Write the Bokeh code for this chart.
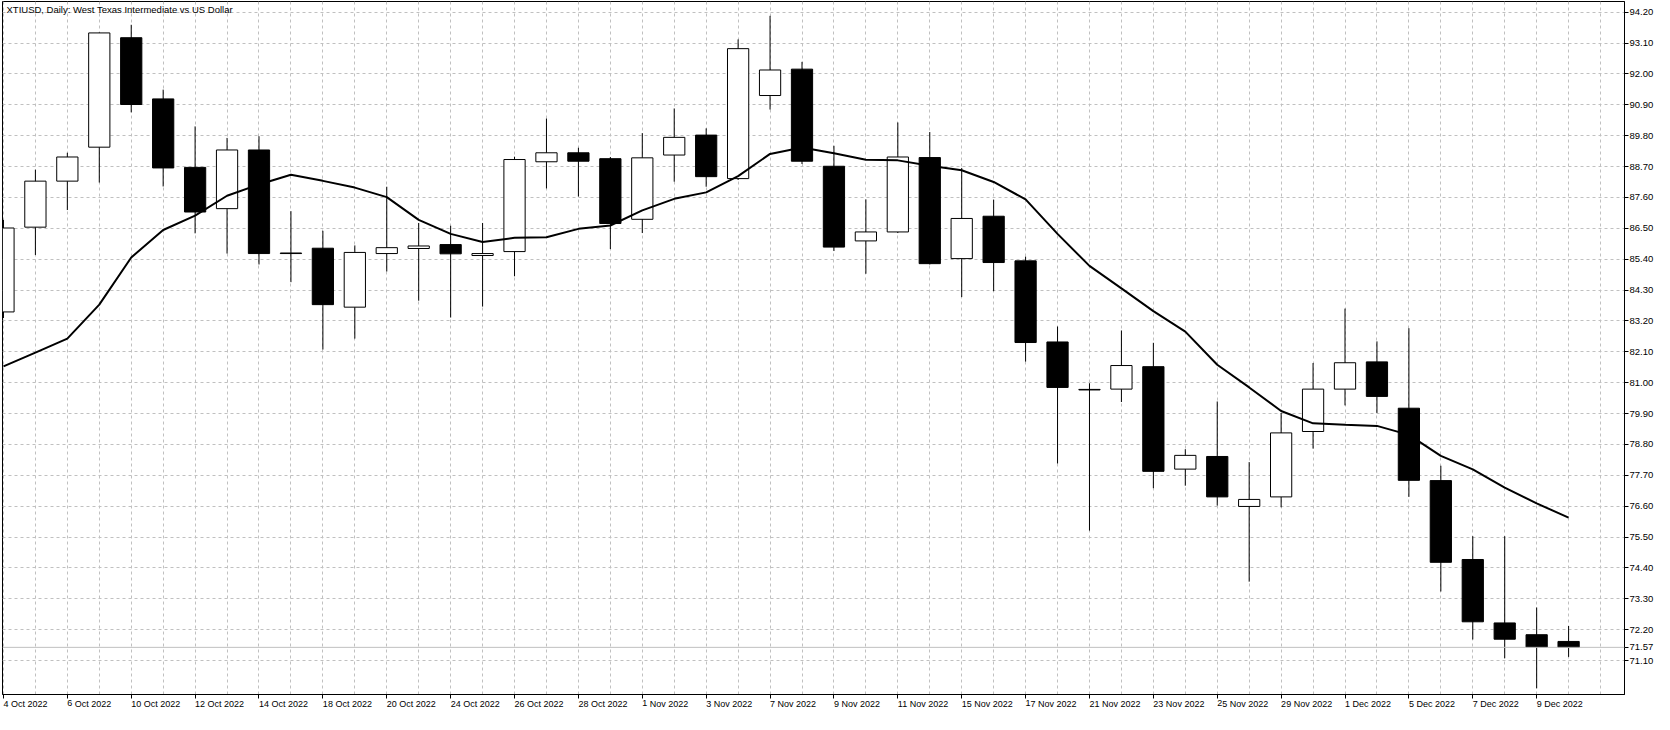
from bokeh.plotting import figure
from bokeh.models import FixedTicker, Label, Span, ColumnDataSource, PrintfTickFormatter
from bokeh.embed import file_html
from bokeh.resources import INLINE

# ---------------- data ----------------
dates = ["4 Oct 2022", "5 Oct 2022", "6 Oct 2022", "7 Oct 2022", "10 Oct 2022",
         "11 Oct 2022", "12 Oct 2022", "13 Oct 2022", "14 Oct 2022", "17 Oct 2022",
         "18 Oct 2022", "19 Oct 2022", "20 Oct 2022", "21 Oct 2022", "24 Oct 2022",
         "25 Oct 2022", "26 Oct 2022", "27 Oct 2022", "28 Oct 2022", "31 Oct 2022",
         "1 Nov 2022", "2 Nov 2022", "3 Nov 2022", "4 Nov 2022", "7 Nov 2022",
         "8 Nov 2022", "9 Nov 2022", "10 Nov 2022", "11 Nov 2022", "14 Nov 2022",
         "15 Nov 2022", "16 Nov 2022", "17 Nov 2022", "18 Nov 2022", "21 Nov 2022",
         "22 Nov 2022", "23 Nov 2022", "24 Nov 2022", "25 Nov 2022", "28 Nov 2022",
         "29 Nov 2022", "30 Nov 2022", "1 Dec 2022", "2 Dec 2022", "5 Dec 2022",
         "6 Dec 2022", "7 Dec 2022", "8 Dec 2022", "9 Dec 2022", "12 Dec 2022"]

opens = [83.52, 86.54, 88.18, 89.39, 93.29, 91.11, 88.67, 87.20, 89.29, 85.62,
         85.79, 83.69, 85.60, 85.78, 85.92, 85.53, 85.67, 88.87, 89.19, 88.98,
         86.82, 89.11, 89.82, 88.27, 91.23, 92.17, 88.71, 86.05, 86.37, 89.02,
         85.42, 86.93, 85.34, 82.45, 80.76, 80.77, 81.57, 77.92, 78.37, 76.59,
         76.93, 79.26, 80.77, 81.74, 80.09, 77.51, 74.70, 72.44, 72.02, 71.78]

highs = [86.80, 88.59, 89.19, 93.47, 93.75, 91.44, 90.13, 89.72, 89.78, 87.11,
         86.41, 85.89, 87.98, 86.69, 86.59, 86.69, 89.05, 90.41, 89.37, 89.04,
         89.89, 90.77, 90.06, 93.23, 94.07, 92.43, 89.44, 87.53, 90.27, 89.93,
         88.65, 87.52, 85.49, 83.00, 80.98, 82.86, 82.42, 78.63, 80.33, 78.17,
         79.92, 81.70, 83.64, 82.47, 82.94, 78.04, 75.53, 75.53, 72.99, 72.33]

lows = [83.30, 85.55, 87.15, 88.13, 90.63, 87.99, 86.32, 85.60, 85.21, 84.58,
        82.18, 82.57, 84.96, 83.92, 83.32, 83.71, 84.79, 87.92, 87.63, 85.76,
        86.33, 88.16, 87.98, 88.22, 90.73, 88.79, 85.69, 84.88, 86.33, 85.21,
        84.05, 84.26, 81.75, 78.12, 75.73, 80.31, 77.24, 77.33, 76.62, 73.91,
        76.56, 78.65, 80.19, 79.92, 76.93, 73.56, 71.85, 71.18, 70.11, 71.23]

closes = [86.51, 88.18, 89.04, 93.46, 90.91, 88.65, 87.08, 89.29, 85.60, 85.60,
          83.78, 85.64, 85.81, 85.87, 85.59, 85.60, 88.95, 89.19, 88.89, 86.67,
          89.01, 89.74, 88.34, 92.90, 92.14, 88.89, 85.83, 86.37, 89.04, 85.24,
          86.85, 85.28, 82.43, 80.83, 80.74, 81.61, 77.84, 78.41, 76.93, 76.84,
          79.21, 80.77, 81.71, 80.51, 77.52, 74.60, 72.48, 71.86, 71.58, 71.57]

ma_values = [81.58, 82.07, 82.57, 83.78, 85.46, 86.44, 86.95, 87.66, 88.06, 88.41,
             88.19, 87.95, 87.61, 86.80, 86.30, 86.01, 86.16, 86.18, 86.48, 86.60,
             87.14, 87.55, 87.78, 88.36, 89.15, 89.38, 89.17, 88.94, 88.92, 88.73,
             88.57, 88.15, 87.53, 86.30, 85.16, 84.36, 83.55, 82.82, 81.64, 80.83,
             79.99, 79.55, 79.50, 79.46, 79.14, 78.39, 77.91, 77.26, 76.70, 76.19]

y_ticks = [71.10, 72.20, 73.30, 74.40, 75.50, 76.60, 77.70, 78.80, 79.90, 81.00,
           82.10, 83.20, 84.30, 85.40, 86.50, 87.60, 88.70, 89.80, 90.90, 92.00,
           93.10, 94.20]

last_price = 71.57
title_text = "XTIUSD, Daily:  West Texas Intermediate vs US Dollar"

# ---------------- figure ----------------
FONT = "Liberation Sans"
GRID = "#c0c0c0"
FRAME_W = 1622
FRAME_H = 693

idx = list(range(len(dates)))

p = figure(frame_width=FRAME_W, frame_height=FRAME_H,
           x_range=(-0.03, 50.75), y_range=(69.89, 94.58),
           output_backend="svg", toolbar_location=None,
           y_axis_location="right",
           min_border_left=2, min_border_top=1,
           min_border_right=0, min_border_bottom=0)
p.background_fill_color = "white"
p.border_fill_color = "white"
p.outline_line_color = "black"
p.outline_line_width = 1
p.outline_line_alpha = 1.0

# y axis (right): price grid levels plus the last price
yax = p.yaxis[0]
yax.ticker = FixedTicker(ticks=y_ticks + [last_price])
yax.formatter = PrintfTickFormatter(format="%.2f")
yax.axis_line_color = "black"
yax.major_tick_line_color = "black"
yax.major_tick_out = 4
yax.major_tick_in = 0
yax.minor_tick_out = 0
yax.minor_tick_in = 0
yax.major_label_standoff = 1
yax.axis_label_standoff = 0
yax.major_label_text_font = FONT
yax.major_label_text_font_size = "9.5px"
yax.major_label_text_color = "black"

# x axis (bottom) -- labels start at their tick, as in the reference
label_idx = list(range(0, len(dates), 2))
xax = p.xaxis[0]
xax.ticker = FixedTicker(ticks=label_idx)
xax.major_label_overrides = {k: dates[k] for k in label_idx}
xax.axis_line_color = "black"
xax.major_tick_line_color = "black"
xax.major_tick_out = 4
xax.major_tick_in = 0
xax.minor_tick_out = 0
xax.minor_tick_in = 0
xax.major_label_standoff = 5
xax.axis_label_standoff = 0
xax.major_label_text_font = FONT
xax.major_label_text_font_size = "9px"
xax.major_label_text_color = "black"
xax.major_label_orientation = -0.0001

# grids
p.xgrid.ticker = FixedTicker(ticks=list(range(0, len(dates) + 1)))
p.ygrid.ticker = FixedTicker(ticks=y_ticks)
for g in (p.xgrid[0], p.ygrid[0]):
    g.grid_line_color = GRID
    g.grid_line_dash = "3 3"
    g.grid_line_width = 1

# current price line
p.add_layout(Span(location=last_price, dimension="width",
                  line_color=GRID, line_width=1))

# candles
up = [c >= o for o, c in zip(opens, closes)]
src_up = ColumnDataSource(dict(
    x=[i for i in idx if up[i]],
    top=[closes[i] for i in idx if up[i]],
    bottom=[opens[i] for i in idx if up[i]]))
src_dn = ColumnDataSource(dict(
    x=[i for i in idx if not up[i]],
    top=[opens[i] for i in idx if not up[i]],
    bottom=[closes[i] for i in idx if not up[i]]))

p.segment(x0=idx, y0=lows, x1=idx, y1=highs, line_color="black", line_width=1)
p.vbar(x="x", top="top", bottom="bottom", width=0.665, source=src_up,
       fill_color="white", line_color="black", line_width=1)
p.vbar(x="x", top="top", bottom="bottom", width=0.665, source=src_dn,
       fill_color="black", line_color="black", line_width=1)

# moving average
p.line(idx, ma_values, line_color="black", line_width=2)

# title inside the chart
p.add_layout(Label(x=-0.03, y=94.58, x_offset=4, y_offset=-2,
                   text=title_text, text_baseline="top", text_align="left",
                   text_font=FONT, text_font_size="9.5px", text_color="black"))

open("out.html", "w").write(file_html(p, INLINE))
